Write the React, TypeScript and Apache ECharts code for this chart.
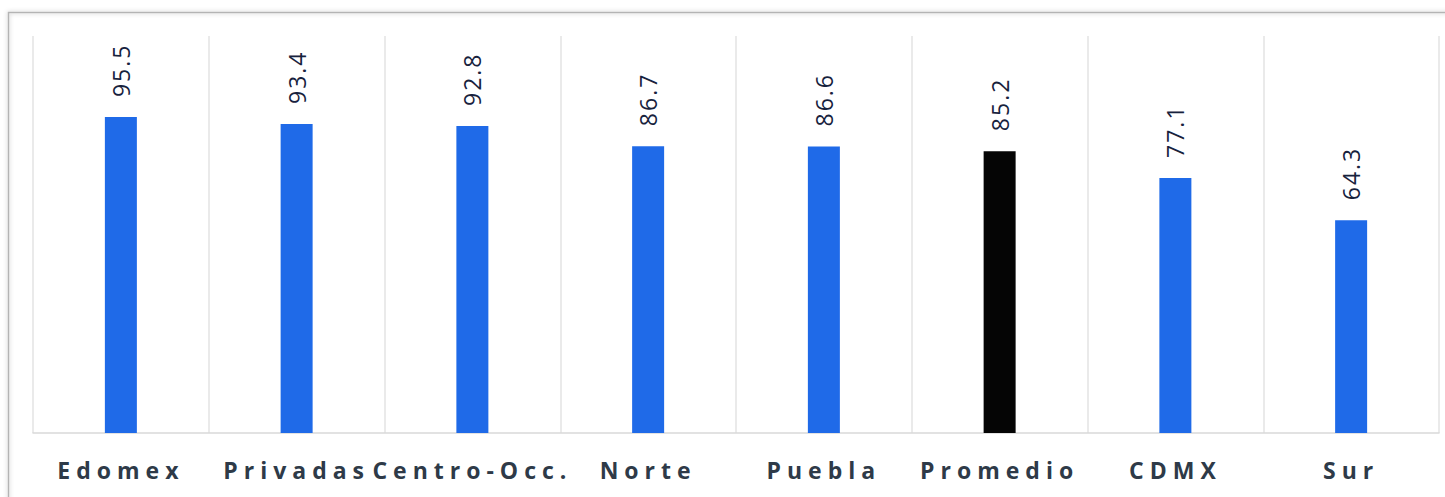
import React, { useEffect, useRef } from "react";
import * as echarts from "echarts";

const categories = ["Edomex", "Privadas", "Centro-Occ.", "Norte", "Puebla", "Promedio", "CDMX", "Sur"];
const values = [95.5, 93.4, 92.8, 86.7, 86.6, 85.2, 77.1, 64.3];
const highlight = "Promedio";

const BLUE = "#1f6ae8";
const BLACK = "#050505";

export default function App() {
  const ref = useRef<HTMLDivElement>(null);
  useEffect(() => {
    if (!ref.current) return;
    const chart = echarts.init(ref.current, undefined, { renderer: "svg" });
    chart.setOption({
      animation: false,
      backgroundColor: "#ffffff",
      grid: { left: 33, right: 6, top: 36, bottom: 64, containLabel: false },
      graphic: [
        {
          type: "rect",
          silent: true,
          z: -10,
          shape: { x: 8.5, y: 12.5, width: 1500, height: 600 },
          style: {
            fill: "rgba(0,0,0,0)",
            stroke: "#b4b4b4",
            lineWidth: 1.5,
            shadowBlur: 4,
            shadowColor: "rgba(0,0,0,0.25)",
          },
        },
      ],
      xAxis: {
        type: "category",
        data: categories,
        boundaryGap: true,
        axisLine: { show: true, lineStyle: { color: "#d9d9d9", width: 1.5 } },
        axisTick: { show: false },
        splitLine: { show: true, lineStyle: { color: "#e3e3e3", width: 1.5 } },
        axisLabel: {
          interval: 0,
          margin: 25,
          fontSize: 23,
          fontWeight: "bold",
          color: "#2e3a48",
          fontFamily: "Open Sans",
        },
      },
      yAxis: {
        type: "value",
        min: 0,
        max: 120,
        show: false,
        splitLine: { show: false },
      },
      series: [
        {
          type: "bar",
          barWidth: 32,
          data: values.map((v, i) => ({
            value: v,
            itemStyle: { color: categories[i] === highlight ? BLACK : BLUE },
          })),
          label: {
            show: true,
            position: "top",
            rotate: 90,
            align: "left",
            verticalAlign: "middle",
            distance: 20,
            fontSize: 23,
            fontWeight: 500,
            color: "#17223d",
            fontFamily: "Open Sans",
            formatter: (p: any) => Number(p.value).toFixed(1),
          },
        },
      ],
    });
    const applySpacing = () => {
      const texts = ref.current?.querySelectorAll("text") || [];
      texts.forEach((t: any) => {
        const s = (t.textContent || "").trim();
        if (categories.includes(s)) {
          t.style.letterSpacing = "6px";
        } else if (/^\d+\.\d$/.test(s)) {
          t.style.letterSpacing = "2px";
        }
      });
    };
    applySpacing();
    chart.on("finished", applySpacing);
    return () => chart.dispose();
  }, []);
  return (
    <div
      ref={ref}
      style={{ position: "fixed", left: 0, top: 0, width: 1445, height: 497 }}
    />
  );
}
